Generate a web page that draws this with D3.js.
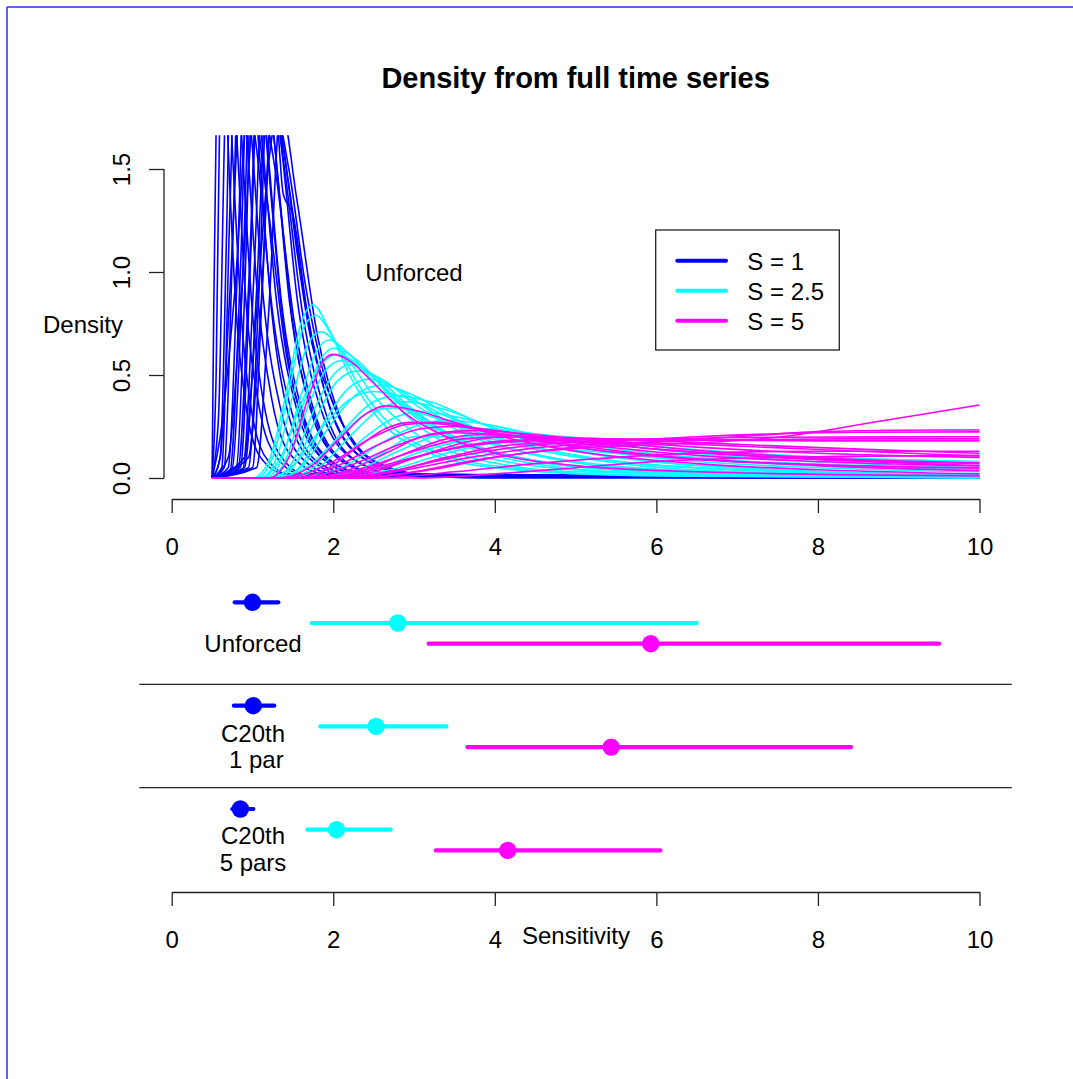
<!DOCTYPE html>
<html>
<head>
<meta charset="utf-8">
<script src="https://cdn.jsdelivr.net/npm/d3@7"></script>
<style>
  body { margin: 0; background: #fff; }
  svg { font-family: "Liberation Sans", Arial, Helvetica, sans-serif; }
</style>
</head>
<body>
<div id="chart"></div>
<script>
// ---- data
var legendLabels = ["S = 1", "S = 2.5", "S = 5"];
var colors = ["#0000ff", "#00ffff", "#ff00ff"];
var xTicks = [0, 2, 4, 6, 8, 10];
var yTicks = [0, 0.5, 1.0, 1.5];

// density curves, S = 1 (peaks go off the top)
var blueCurves = [
  [[0.5,0],[0.52,0.8],[0.56,2.0],[0.62,2.5],[0.7,1.6],[0.8,0.8],[0.92,0.35],[1.1,0.1],[1.4,0.02],[10,0]],
  [[0.5,0],[0.55,0.5],[0.6,1.9],[0.66,2.3],[0.75,1.6],[0.86,0.8],[1.0,0.3],[1.2,0.08],[1.5,0.01],[10,0]],
  [[0.5,0],[0.58,0.3],[0.65,1.6],[0.7,2.4],[0.8,1.7],[0.92,0.85],[1.08,0.35],[1.3,0.1],[1.6,0.02],[10,0]],
  [[0.5,0],[0.6,0.1],[0.68,1.2],[0.75,2.5],[0.86,1.7],[1.0,0.8],[1.16,0.32],[1.4,0.08],[1.7,0.01],[10,0]],
  [[0.5,0],[0.62,0.05],[0.72,1.3],[0.8,2.2],[0.92,1.7],[1.06,0.9],[1.24,0.38],[1.5,0.1],[1.9,0.02],[10,0]],
  [[0.5,0],[0.65,0.05],[0.76,1.2],[0.85,2.3],[0.98,1.7],[1.14,0.85],[1.34,0.35],[1.6,0.1],[2.0,0.02],[10,0]],
  [[0.5,0],[0.6,0.1],[0.72,0.9],[0.88,2.0],[1.05,1.6],[1.25,0.8],[1.5,0.3],[1.8,0.08],[2.3,0.01],[10,0]],
  [[0.5,0],[0.7,0.05],[0.82,1.1],[0.92,2.3],[1.06,1.7],[1.24,0.8],[1.45,0.3],[1.75,0.08],[2.2,0.01],[10,0]],
  [[0.5,0],[0.72,0.03],[0.85,1.0],[0.95,2.1],[1.1,1.7],[1.3,0.85],[1.55,0.33],[1.85,0.1],[2.3,0.02],[10,0]],
  [[0.5,0],[0.6,0.2],[0.78,0.9],[0.97,1.9],[1.18,1.35],[1.42,0.6],[1.7,0.22],[2.05,0.06],[2.6,0.01],[10,0]],
  [[0.5,0],[0.75,0.05],[0.88,1.0],[1.0,2.2],[1.15,1.75],[1.36,0.85],[1.62,0.32],[1.95,0.09],[2.4,0.015],[10,0]],
  [[0.5,0],[0.8,0.05],[0.92,1.1],[1.02,2.4],[1.18,1.6],[1.38,0.75],[1.62,0.28],[1.95,0.07],[2.4,0.01],[10,0]],
  [[0.5,0],[0.7,0.1],[0.85,0.8],[1.05,1.9],[1.28,1.5],[1.52,0.75],[1.8,0.28],[2.15,0.08],[2.7,0.01],[10,0]],
  [[0.5,0],[0.82,0.04],[0.96,1.0],[1.08,2.1],[1.25,1.7],[1.46,0.85],[1.72,0.33],[2.05,0.1],[2.6,0.015],[10,0]],
  [[0.5,0],[0.85,0.05],[0.98,1.1],[1.1,2.3],[1.28,1.6],[1.5,0.75],[1.78,0.28],[2.15,0.07],[2.7,0.01],[10,0]],
  [[0.5,0],[0.88,0.04],[1.02,1.0],[1.15,2.1],[1.33,1.7],[1.56,0.85],[1.85,0.33],[2.25,0.09],[2.9,0.01],[10,0]],
  [[0.5,0],[0.9,0.05],[1.05,0.9],[1.18,1.9],[1.3,1.75],[1.38,1.38],[1.5,1.28],[1.68,0.8],[1.95,0.35],[2.35,0.1],[3,0.015],[10,0]],
  [[0.5,0],[0.95,0.05],[1.08,0.9],[1.2,2.0],[1.38,1.55],[1.62,0.8],[1.92,0.3],[2.3,0.08],[2.9,0.01],[10,0]],
  [[0.5,0],[1.0,0.05],[1.12,0.9],[1.25,1.9],[1.44,1.45],[1.68,0.78],[1.98,0.32],[2.4,0.09],[3.0,0.015],[10,0]],
  [[0.5,0],[0.95,0.1],[1.1,0.8],[1.25,1.8],[1.4,1.55],[1.55,1.1],[1.7,0.72],[1.95,0.41],[2.2,0.2],[2.55,0.07],[3,0.02],[3.8,0],[10,0]],
  [[0.5,0],[0.9,0.1],[1.05,0.8],[1.2,1.53],[1.3,1.75],[1.45,1.5],[1.65,0.95],[1.9,0.48],[2.25,0.18],[2.7,0.05],[3.3,0.01],[10,0]],
  [[0.5,0],[1.05,0.05],[1.2,0.8],[1.35,1.8],[1.55,1.35],[1.8,0.7],[2.1,0.28],[2.5,0.08],[3.1,0.01],[10,0]]
];

// density curves, S = 2.5
var cyanCurves = [
  [[0.5,0],[1.0,0],[1.2,0.08],[1.4,0.38],[1.6,0.75],[1.75,0.84],[1.95,0.72],[2.2,0.5],[2.6,0.27],[3.2,0.12],[4,0.05],[5.5,0.015],[10,0]],
  [[0.5,0],[1.05,0],[1.25,0.1],[1.45,0.42],[1.62,0.72],[1.78,0.79],[2.0,0.68],[2.3,0.46],[2.7,0.26],[3.3,0.12],[4.2,0.05],[6,0.01],[10,0]],
  [[0.5,0],[1.1,0],[1.3,0.1],[1.5,0.4],[1.7,0.66],[1.85,0.71],[2.1,0.62],[2.5,0.4],[3,0.22],[3.7,0.1],[5,0.03],[10,0.005]],
  [[0.5,0],[1.15,0],[1.35,0.08],[1.6,0.4],[1.8,0.62],[1.95,0.67],[2.2,0.6],[2.6,0.42],[3.1,0.24],[4,0.09],[5.5,0.03],[10,0.005]],
  [[0.5,0],[1.2,0],[1.4,0.08],[1.65,0.38],[1.85,0.58],[2.0,0.63],[2.3,0.57],[2.7,0.4],[3.3,0.22],[4.2,0.09],[6,0.02],[10,0.005]],
  [[0.5,0],[1.1,0],[1.35,0.1],[1.6,0.36],[1.85,0.55],[2.05,0.6],[2.4,0.52],[2.9,0.34],[3.5,0.19],[4.5,0.08],[6,0.03],[10,0.008]],
  [[0.5,0],[1.2,0],[1.45,0.1],[1.7,0.36],[1.9,0.52],[2.1,0.57],[2.4,0.52],[2.8,0.38],[3.4,0.22],[4.3,0.1],[6,0.03],[10,0.005]],
  [[0.5,0],[1.25,0],[1.5,0.08],[1.75,0.32],[2.0,0.5],[2.2,0.55],[2.5,0.5],[2.9,0.36],[3.5,0.2],[4.4,0.09],[6,0.03],[10,0.005]],
  [[0.5,0],[1.3,0],[1.55,0.08],[1.8,0.3],[2.05,0.47],[2.3,0.52],[2.6,0.48],[3.0,0.36],[3.6,0.22],[4.5,0.11],[6,0.04],[10,0.01]],
  [[0.5,0],[1.35,0],[1.6,0.06],[1.9,0.28],[2.2,0.44],[2.45,0.48],[2.8,0.43],[3.3,0.3],[4,0.17],[5,0.08],[7,0.025],[10,0.008]],
  [[0.5,0],[1.3,0],[1.6,0.05],[1.95,0.25],[2.3,0.41],[2.6,0.45],[3.0,0.4],[3.5,0.29],[4.2,0.17],[5.2,0.09],[7,0.03],[10,0.01]],
  [[0.5,0],[1.2,0],[1.5,0.06],[1.85,0.24],[2.2,0.38],[2.5,0.42],[2.9,0.39],[3.4,0.3],[4.1,0.19],[5,0.11],[6.5,0.05],[10,0.015]],
  [[0.5,0],[1.4,0],[1.75,0.05],[2.1,0.22],[2.5,0.37],[2.8,0.4],[3.2,0.37],[3.8,0.27],[4.5,0.17],[5.5,0.1],[7.5,0.04],[10,0.015]],
  [[0.5,0],[1.5,0],[1.85,0.06],[2.2,0.2],[2.6,0.34],[2.9,0.37],[3.4,0.33],[4,0.24],[4.8,0.15],[6,0.08],[8,0.03],[10,0.015]],
  [[0.5,0],[1.3,0],[1.7,0.06],[2.1,0.21],[2.45,0.32],[2.75,0.34],[3.2,0.3],[3.8,0.22],[4.6,0.14],[5.8,0.07],[8,0.025],[10,0.01]],
  [[0.5,0],[1.6,0],[2.0,0.06],[2.4,0.2],[2.8,0.3],[3.1,0.32],[3.6,0.29],[4.2,0.22],[5,0.15],[6.2,0.09],[8,0.05],[10,0.03]],
  [[0.5,0],[1.6,0],[2.1,0.05],[2.6,0.17],[3.0,0.25],[3.4,0.28],[3.9,0.26],[4.6,0.2],[5.5,0.14],[6.8,0.09],[8.5,0.06],[10,0.04]],
  [[0.5,0],[1.7,0],[2.2,0.04],[2.6,0.12],[3.0,0.2],[3.6,0.2],[4.3,0.17],[5.2,0.13],[6.5,0.09],[8,0.06],[10,0.04]],
  [[0.5,0],[1.8,0],[2.3,0.04],[2.8,0.13],[3.3,0.21],[3.8,0.24],[4.4,0.22],[5.2,0.18],[6.2,0.13],[7.5,0.09],[10,0.05]],
  [[0.5,0],[1.9,0],[2.5,0.04],[3.1,0.13],[3.7,0.19],[4.2,0.21],[4.9,0.2],[5.8,0.16],[7,0.12],[8.5,0.09],[10,0.07]],
  [[0.5,0],[2.0,0],[2.7,0.04],[3.4,0.12],[4.0,0.17],[4.6,0.18],[5.4,0.17],[6.4,0.14],[7.6,0.11],[10,0.08]]
];

// density curves, S = 5
var magentaCurves = [
  [[0.5,0],[1.2,0],[1.45,0.1],[1.7,0.4],[1.9,0.58],[2.0,0.6],[2.2,0.57],[2.5,0.46],[2.9,0.31],[3.4,0.2],[4,0.12],[5,0.06],[6.5,0.03],[10,0.01]],
  [[0.5,0],[1.3,0],[1.7,0.05],[2.1,0.2],[2.4,0.31],[2.65,0.35],[3.0,0.33],[3.5,0.27],[4.1,0.2],[5,0.13],[6.5,0.07],[8,0.04],[10,0.02]],
  [[0.5,0],[1.5,0],[1.9,0.04],[2.3,0.15],[2.65,0.24],[2.95,0.27],[3.4,0.26],[4.0,0.22],[4.8,0.17],[6,0.11],[8,0.06],[10,0.035]],
  [[0.5,0],[1.4,0],[1.9,0.06],[2.5,0.2],[2.9,0.26],[3.3,0.27],[4,0.22],[5,0.15],[6.5,0.09],[8,0.065],[10,0.048]],
  [[0.5,0],[1.5,0],[2.0,0.05],[2.6,0.17],[3.1,0.24],[3.5,0.25],[4.2,0.22],[5.2,0.16],[6.5,0.11],[8,0.08],[10,0.058]],
  [[0.5,0],[1.6,0],[2.2,0.06],[2.8,0.16],[3.3,0.22],[3.8,0.23],[4.5,0.21],[5.5,0.17],[7,0.12],[8.5,0.09],[10,0.073]],
  [[0.5,0],[1.7,0],[2.2,0.04],[2.7,0.13],[3.1,0.2],[3.5,0.22],[4.1,0.21],[4.9,0.18],[6,0.14],[7.5,0.1],[10,0.06]],
  [[0.5,0],[1.6,0],[2.3,0.04],[3,0.13],[3.6,0.19],[4.2,0.2],[5,0.18],[6,0.14],[7.5,0.1],[10,0.07]],
  [[0.5,0],[1.8,0],[2.4,0.04],[2.9,0.12],[3.4,0.19],[3.8,0.21],[4.5,0.2],[5.4,0.18],[6.5,0.15],[8,0.12],[10,0.1]],
  [[0.5,0],[1.9,0],[2.5,0.03],[3.1,0.11],[3.7,0.18],[4.2,0.2],[5,0.195],[6,0.18],[7.2,0.16],[8.5,0.14],[10,0.12]],
  [[0.5,0],[2.0,0],[2.7,0.03],[3.4,0.1],[4.2,0.16],[5,0.175],[6,0.17],[7,0.155],[8.5,0.13],[10,0.107]],
  [[0.5,0],[3,0],[4,0.02],[5,0.05],[6,0.08],[7.5,0.1],[10,0.11]],
  [[0.5,0],[2.5,0],[3.5,0.03],[4.5,0.07],[5.5,0.1],[6.5,0.12],[8,0.13],[10,0.13]],
  [[0.5,0],[1.9,0],[2.6,0.05],[3.3,0.13],[4.1,0.18],[5,0.19],[6.2,0.185],[8,0.18],[10,0.18]],
  [[0.5,0],[2.1,0],[2.9,0.04],[3.7,0.1],[4.6,0.15],[5.6,0.17],[6.8,0.185],[8.3,0.19],[10,0.19]],
  [[0.5,0],[1.8,0],[2.5,0.05],[3.2,0.12],[4,0.17],[5,0.185],[6,0.19],[7.5,0.198],[10,0.2]],
  [[0.5,0],[2.0,0],[2.8,0.04],[3.6,0.11],[4.5,0.16],[5.5,0.18],[6.5,0.2],[7.5,0.215],[8.5,0.222],[10,0.224]],
  [[0.5,0],[2.3,0],[3.2,0.04],[4,0.1],[5,0.15],[6,0.175],[7,0.2],[8,0.225],[9,0.232],[10,0.233]],
  [[0.5,0],[2.2,0],[3,0.03],[3.8,0.09],[4.6,0.13],[5.5,0.155],[6.5,0.17],[7.55,0.2],[8.8,0.278],[10,0.354]]
];

// intervals in the lower panel: one row per fit, one value per S
var rowLabels = [["Unforced"], ["C20th", " 1 par"], ["C20th", "5 pars"]];
var bestEst = [[1.0, 2.80, 5.93], [1.01, 2.53, 5.44], [0.85, 2.04, 4.16]];
var lowEst  = [[0.78, 1.73, 3.18], [0.77, 1.84, 3.66], [0.75, 1.68, 3.27]];
var highEst = [[1.32, 6.50, 9.50], [1.27, 3.40, 8.41], [1.01, 2.71, 6.05]];

// ---- layout
var W = 1073, H = 1079;
var svg = d3.select("#chart").append("svg")
  .attr("width", W).attr("height", H);

// page frame (left and top edges visible)
svg.append("line").attr("x1", 7).attr("y1", 7).attr("x2", W).attr("y2", 7)
  .attr("stroke", "#2a2aff").attr("stroke-width", 1.5);
svg.append("line").attr("x1", 7).attr("y1", 7).attr("x2", 7).attr("y2", H)
  .attr("stroke", "#2a2aff").attr("stroke-width", 1.5);

var x = d3.scaleLinear().domain([0, 10]).range([171.7, 979.5]);
var y = d3.scaleLinear().domain([0, 1.6]).range([478, 478 - 1.6 * 206]);

// clip = R plot region (4% extension)
svg.append("clipPath").attr("id", "plotclip")
  .append("rect")
  .attr("x", x(-0.4)).attr("y", y(1.664))
  .attr("width", x(10.4) - x(-0.4)).attr("height", y(-0.064) - y(1.664));

svg.append("text")
  .attr("x", (x(0) + x(10)) / 2).attr("y", 88)
  .attr("text-anchor", "middle")
  .attr("font-size", 29).attr("font-weight", "bold")
  .text("Density from full time series");

var line = d3.line()
  .x(function(d) { return x(d[0]); })
  .y(function(d) { return y(d[1]); })
  .curve(d3.curveMonotoneX);

var curveGroups = [blueCurves, cyanCurves, magentaCurves];
var plot = svg.append("g").attr("clip-path", "url(#plotclip)");
curveGroups.forEach(function(group, i) {
  plot.selectAll(null)
    .data(group)
    .enter()
    .append("path")
    .attr("d", line)
    .attr("fill", "none")
    .attr("stroke", colors[i])
    .attr("stroke-width", 1.6);
});

// y axis
var yAxis = svg.append("g")
  .attr("transform", "translate(164,0)")
  .call(d3.axisLeft(y).tickValues(yTicks).tickSize(15).tickPadding(0)
    .tickFormat(d3.format(".1f")));
yAxis.select(".domain").remove();
yAxis.append("line")
  .attr("x1", 0).attr("x2", 0).attr("y1", y(0)).attr("y2", y(1.5))
  .attr("stroke", "#222").attr("stroke-width", 1.3);
yAxis.selectAll(".tick line").attr("stroke", "#222").attr("stroke-width", 1.3);
yAxis.selectAll(".tick text")
  .attr("x", null).attr("dy", null)
  .attr("transform", "translate(-34,0) rotate(-90)")
  .attr("text-anchor", "middle")
  .attr("font-size", 24).attr("fill", "#000");

svg.append("text").attr("x", 83).attr("y", 333)
  .attr("text-anchor", "middle").attr("font-size", 24)
  .text("Density");

svg.append("text").attr("x", 414).attr("y", 281)
  .attr("text-anchor", "middle").attr("font-size", 24)
  .text("Unforced");

// legend
var legend = svg.append("g");
legend.append("rect")
  .attr("x", 655.7).attr("y", 230).attr("width", 183.6).attr("height", 120)
  .attr("fill", "#fff").attr("stroke", "#222").attr("stroke-width", 1.3);
legendLabels.forEach(function(lab, i) {
  var ly = 260.7 + i * 30;
  legend.append("line")
    .attr("x1", 677.3).attr("x2", 726).attr("y1", ly).attr("y2", ly)
    .attr("stroke", colors[i]).attr("stroke-width", 4).attr("stroke-linecap", "round");
  legend.append("text")
    .attr("x", 747.3).attr("y", ly + 9.3).attr("font-size", 24)
    .text(lab);
});

function styleXAxis(g) {
  g.select(".domain").attr("stroke", "#222").attr("stroke-width", 1.3);
  g.selectAll(".tick line").attr("stroke", "#222").attr("stroke-width", 1.3);
  g.selectAll(".tick text").attr("font-size", 24).attr("fill", "#000")
    .attr("dy", null).attr("y", 56);
}

svg.append("g")
  .attr("transform", "translate(0,499)")
  .call(d3.axisBottom(x).tickValues(xTicks).tickSize(14).tickSizeOuter(0))
  .call(styleXAxis);

// lower panel: intervals
var rowTop = [602.3, 705.7, 809];
var rowStep = 20.7;
var lower = svg.append("g");
rowTop.forEach(function(ry, r) {
  for (var k = 0; k < 3; k++) {
    var yy = ry + k * rowStep;
    lower.append("line")
      .attr("x1", x(lowEst[r][k])).attr("x2", x(highEst[r][k]))
      .attr("y1", yy).attr("y2", yy)
      .attr("stroke", colors[k]).attr("stroke-width", 4.2)
      .attr("stroke-linecap", "round");
    lower.append("circle")
      .attr("cx", x(bestEst[r][k])).attr("cy", yy).attr("r", 8.7)
      .attr("fill", colors[k]);
  }
});

var labelBase = [[651.7], [741.7, 768.3], [844.3, 871]];
rowLabels.forEach(function(lines, r) {
  lines.forEach(function(t, j) {
    lower.append("text")
      .attr("x", 253).attr("y", labelBase[r][j])
      .attr("text-anchor", "middle").attr("font-size", 24)
      .attr("xml:space", "preserve").style("white-space", "pre")
      .text(t);
  });
});

[684.3, 787.7].forEach(function(sy) {
  lower.append("line")
    .attr("x1", x(-0.4)).attr("x2", x(10.4)).attr("y1", sy).attr("y2", sy)
    .attr("stroke", "#222").attr("stroke-width", 1.3);
});

svg.append("g")
  .attr("transform", "translate(0,892)")
  .call(d3.axisBottom(x).tickValues(xTicks).tickSize(14).tickSizeOuter(0))
  .call(styleXAxis);

svg.append("text").attr("x", 576).attr("y", 944)
  .attr("text-anchor", "middle").attr("font-size", 24)
  .text("Sensitivity");
</script>
</body>
</html>
